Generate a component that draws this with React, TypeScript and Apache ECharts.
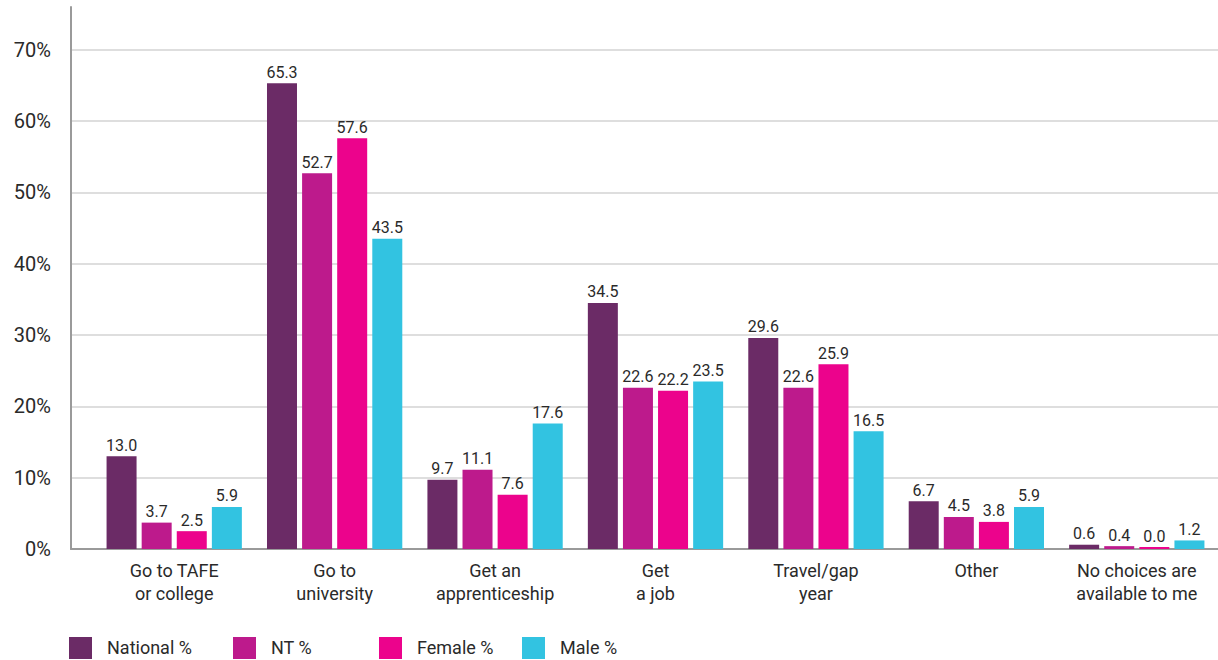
import React, { useEffect, useRef } from "react";
import * as echarts from "echarts";

const categories = [
  "Go to TAFE\nor college",
  "Go to\nuniversity",
  "Get an\napprenticeship",
  "Get\na job",
  "Travel/gap\nyear",
  "Other",
  "No choices are\navailable to me",
];
const seriesNames = ["National %", "NT %", "Female %", "Male %"];
const nationalValues = [13.0, 65.3, 9.7, 34.5, 29.6, 6.7, 0.6];
const ntValues = [3.7, 52.7, 11.1, 22.6, 22.6, 4.5, 0.4];
const femaleValues = [2.5, 57.6, 7.6, 22.2, 25.9, 3.8, 0.0];
const maleValues = [5.9, 43.5, 17.6, 23.5, 16.5, 5.9, 1.2];
const colors = ["#6B2B66", "#BD1A8C", "#EC038C", "#32C3E1"];
const legendLefts = [69, 233, 379, 522];

const FONT = "Roboto, 'Liberation Sans', sans-serif";

export default function App() {
  const ref = useRef<HTMLDivElement>(null);
  useEffect(() => {
    if (!ref.current) return;
    const chart = echarts.init(ref.current, undefined, { renderer: "svg" });
    const allValues = [nationalValues, ntValues, femaleValues, maleValues];
    const series = allValues.map((vals, i) => ({
      name: seriesNames[i],
      type: "bar",
      xAxisIndex: 1,
      yAxisIndex: 1,
      data: vals,
      barWidth: 30,
      barGap: "17%",
      barMinHeight: 2,
      itemStyle: { color: colors[i] },
      label: {
        show: true,
        position: "top",
        distance: 3,
        fontFamily: FONT,
        fontSize: 16,
        color: "#2a2a2a",
        formatter: (p: any) => Number(p.value).toFixed(1),
      },
    }));
    const legendGraphics: any[] = [];
    seriesNames.forEach((n, i) => {
      legendGraphics.push({
        type: "rect",
        left: legendLefts[i],
        top: 637,
        shape: { width: 23, height: 22 },
        style: { fill: colors[i] },
      });
      legendGraphics.push({
        type: "text",
        left: legendLefts[i] + 38,
        top: 638,
        style: { text: n, fontFamily: FONT, fontSize: 18, fill: "#2a2a2a" },
      });
    });
    chart.setOption({
      animation: false,
      grid: [
        { left: 71, right: 0, top: 7, bottom: 111 },
        { left: 94, right: 1, top: 7, bottom: 111 },
      ],
      xAxis: [
        {
          gridIndex: 0,
          type: "value",
          min: 0,
          max: 1,
          axisLine: { show: true, lineStyle: { color: "#9a9a9a", width: 2 } },
          axisTick: { show: false },
          axisLabel: { show: false },
          splitLine: { show: false },
        },
        {
          gridIndex: 1,
          type: "category",
          data: categories,
          axisLine: { show: false },
          axisTick: { show: false },
          axisLabel: {
            fontFamily: FONT,
            fontSize: 18,
            color: "#2a2a2a",
            lineHeight: 23,
            margin: 10,
            interval: 0,
          },
        },
      ],
      yAxis: [
        {
          gridIndex: 0,
          type: "value",
          min: 0,
          max: 76,
          interval: 10,
          axisLine: { show: true, lineStyle: { color: "#9a9a9a", width: 2 } },
          axisTick: { show: false },
          axisLabel: {
            showMaxLabel: false,
            formatter: "{value}%",
            fontFamily: FONT,
            fontSize: 20,
            color: "#2a2a2a",
            margin: 20,
          },
          splitLine: {
            show: true,
            showMaxLine: false,
            showMinLine: false,
            lineStyle: { color: "#dedede", width: 2 },
          },
        },
        {
          gridIndex: 1,
          type: "value",
          min: 0,
          max: 76,
          interval: 10,
          show: false,
          splitLine: { show: false },
        },
      ],
      series,
      graphic: legendGraphics,
    });
    return () => chart.dispose();
  }, []);
  return (
    <div
      ref={ref}
      style={{ position: "fixed", left: 0, top: 0, width: 1218, height: 660, background: "#fff" }}
    />
  );
}
